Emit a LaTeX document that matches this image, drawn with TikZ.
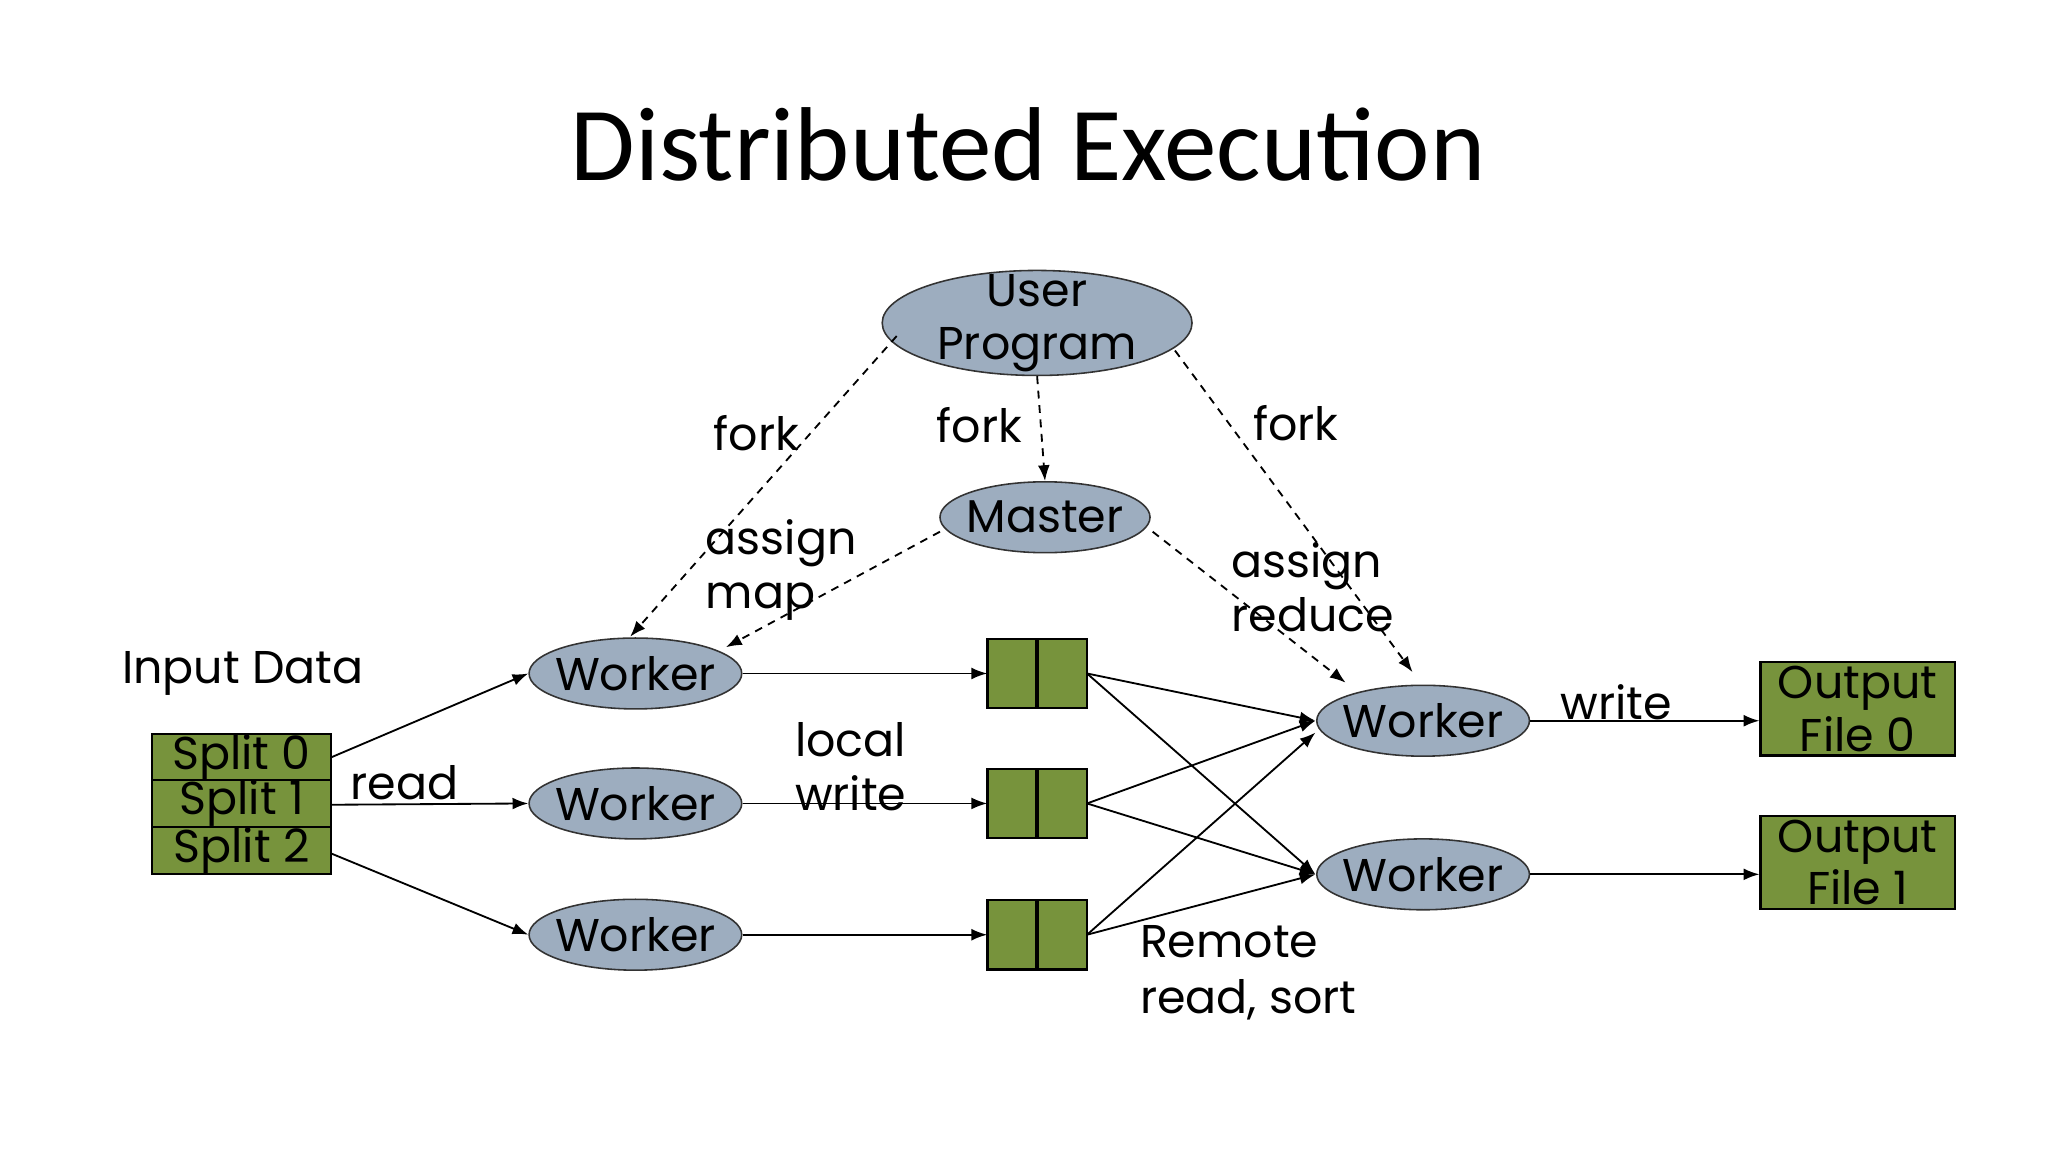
\documentclass[tikz,border=0pt]{standalone}
\usepackage{fontspec}
\setmainfont{Poppins}
\newfontfamily\titlefont{Carlito}
\usetikzlibrary{shapes.geometric,arrows.meta}
\definecolor{ell}{HTML}{9DADBF}
\definecolor{grn}{HTML}{77933C}
\begin{document}
\begin{tikzpicture}[x=0.5pt,y=-0.5pt,
  el/.style={ellipse,draw=black!80,line width=0.6pt,fill=ell,inner sep=0pt},
  box/.style={draw=black,line width=0.8pt,fill=grn,inner sep=0pt},
  lab/.style={font=\fontsize{17.5}{18}\selectfont,align=center,inner sep=0pt},
  ar/.style={-{Latex[length=6pt,width=4.5pt]},line width=0.7pt},
  da/.style={ar,dashed,dash pattern=on 3pt off 2.5pt}]
\useasboundingbox[fill=white] (0,0) rectangle (1560,877.5);
\node[font=\titlefont\fontsize{40}{42}\selectfont] (title) at (783,110) {Distributed Execution};
\node[el,minimum width=118pt,minimum height=40pt] (up) at (790,246) {};
\node[lab,font=\fontsize{17.5}{20}\selectfont] (upt) at (790,246) {User\\Program};
\node[el,minimum width=80pt,minimum height=27pt] (m) at (796,394) {};
\node[lab] at (m) {Master};
\foreach \n/\x/\y in {w1/484/513,w2/484/612,w3/484/712,w4/1084/549,w5/1084/666}{
  \node[el,minimum width=81pt,minimum height=27pt] (\n) at (\x,\y) {};
  \node[lab] at (\n) {Worker};}
\foreach \n/\y/\t in {s0/577/Split 0,s1/612/Split 1,s2/648/Split 2}{
  \node[box,minimum width=68pt,minimum height=18pt,anchor=center] (\n) at (184,\y) {};
  \node[lab] at (\n) {\t};}
\foreach \n/\y in {b1/513,b2/612,b3/712}{
  \node[box,minimum width=18.5pt,minimum height=26.5pt,anchor=east] (\n a) at (790,\y) {};
  \node[box,minimum width=18.5pt,minimum height=26.5pt,anchor=west] (\n b) at (790,\y) {};
  \coordinate (\n l) at (752,\y); \coordinate (\n r) at (828,\y);}
\node[box,minimum width=74pt,minimum height=35.5pt] (o0) at (1415,540) {};
\node[lab,font=\fontsize{17.5}{20}\selectfont] at (o0) {Output\\File 0};
\node[box,minimum width=74pt,minimum height=35.5pt] (o1) at (1415,657) {};
\node[lab,font=\fontsize{17.5}{20}\selectfont] at (o1) {Output\\File 1};
% labels
\node[lab] (id) at (185,513) {Input Data};
\node[lab] (rd) at (308,596) {read};
\node[lab,font=\fontsize{17.5}{20.5}\selectfont] (lw) at (648,584) {local\\write};
\node[lab] (f1) at (576,330) {fork};
\node[lab] (f2) at (746,324) {fork};
\node[lab] (f3) at (987,322) {fork};
\node[lab,font=\fontsize{17.5}{20.5}\selectfont,align=left] (am) at (595,434) {assign\\map};
\node[lab,font=\fontsize{17.5}{20.5}\selectfont,align=left] (ar) at (1000,447) {assign\\reduce};
\node[lab] (wr) at (1231,535) {write};
\node[lab,font=\fontsize{17.5}{21}\selectfont,align=left,anchor=west] (rr) at (868,741) {Remote\\read, sort};
% arrows
\coordinate (s0r) at (252,577); \coordinate (s1r) at (252,613); \coordinate (s2r) at (252,650);
\draw[ar] (s0r) -- (w1.west);
\draw[ar] (s1r) -- (w2.west);
\draw[ar] (s2r) -- (w3.west);
\draw[ar] (w1.east) -- (b1l);
\draw[ar] (w2.east) -- (b2l);
\draw[ar] (w3.east) -- (b3l);
\coordinate (w4a) at (1002,549); \coordinate (w4b) at (1002,558);
\coordinate (w5a) at (1002,666);
\draw[ar] (b1r) -- (w4a); \draw[ar] (b1r) -- (w5a);
\draw[ar] (b2r) -- (w4a); \draw[ar] (b2r) -- (w5a);
\draw[ar] (b3r) -- (w4b); \draw[ar] (b3r) -- (w5a);
\draw[ar] (w4.east) -- (o0.west |- w4.east);
\draw[ar] (w5.east) -- (o1.west |- w5.east);
\coordinate (u1) at (683,256); \coordinate (u3) at (895,267);
\coordinate (w1t) at (480,485); \coordinate (w4t) at (1076,512);
\coordinate (m1) at (716,405); \coordinate (m2) at (878,405);
\coordinate (w1r) at (553,493); \coordinate (w4l) at (1025,520);
\draw[da] (u1) -- (w1t);
\draw[da] (up.south) -- (m.north);
\draw[da] (u3) -- (w4t);
\draw[da] (m1) -- (w1r);
\draw[da] (m2) -- (w4l);
\end{tikzpicture}
\end{document}
